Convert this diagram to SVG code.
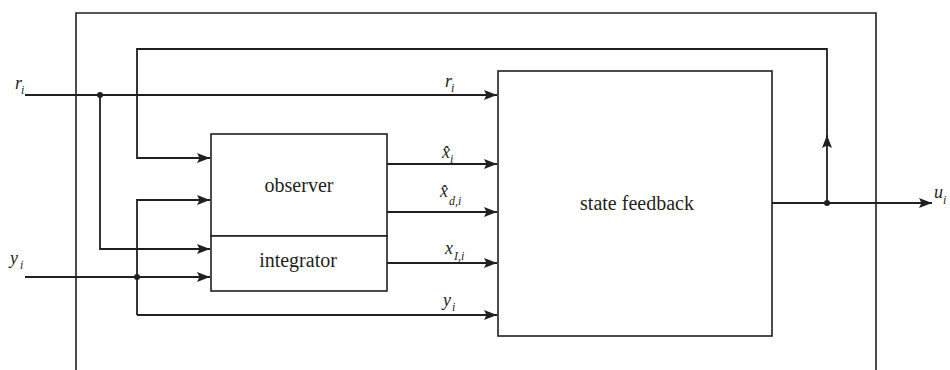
<svg xmlns="http://www.w3.org/2000/svg" width="950" height="370" viewBox="0 0 950 370">
<defs>
<marker id="arr" markerUnits="userSpaceOnUse" markerWidth="13" markerHeight="10" refX="13" refY="5" orient="auto" viewBox="0 0 13 10">
<path d="M0,0 L13,5 L0,10 L2.5,5 z" fill="#231f20"/>
</marker>
<style>
.ln{fill:none;stroke:#231f20;stroke-width:1.8}
.fr{fill:none;stroke:#231f20;stroke-width:1.6}
.bx{fill:#fff;stroke:#231f20;stroke-width:1.6}
.lbl{font-size:20px;fill:#231f20;text-anchor:middle}
.v{font-style:italic;font-size:18px;fill:#231f20}
.s{font-style:italic;font-size:12px;fill:#231f20}
</style>
</defs>
<rect width="950" height="370" fill="#fff"/>
<g id="frame">
<path class="fr" d="M76,371 V13 H876 V371"/>
</g>
<g id="connectors">
<path class="ln" d="M25,95 H497" marker-end="url(#arr)"/>
<path class="ln" d="M100,95 V249 H210" marker-end="url(#arr)"/>
<path class="ln" d="M25,277 H210" marker-end="url(#arr)"/>
<path class="ln" d="M137,315 V200 H210" marker-end="url(#arr)"/>
<path class="ln" d="M137,315 H497" marker-end="url(#arr)"/>
<path class="ln" d="M772,203 H932" marker-end="url(#arr)"/>
<path class="ln" d="M827,203 V135" marker-end="url(#arr)"/>
<path class="ln" d="M827,138 V49 H137 V158 H210" marker-end="url(#arr)"/>
<path class="ln" d="M387,164 H497" marker-end="url(#arr)"/>
<path class="ln" d="M387,212 H497" marker-end="url(#arr)"/>
<path class="ln" d="M387,263 H497" marker-end="url(#arr)"/>
<circle cx="100" cy="95" r="3" fill="#231f20"/>
<circle cx="137" cy="277" r="3" fill="#231f20"/>
<circle cx="827" cy="203" r="3" fill="#231f20"/>
</g>
<g font-family="Liberation Serif, DejaVu Serif, serif">
<g id="observer">
<rect class="bx" x="211" y="134" width="176" height="102"/>
<text class="lbl" x="299" y="192">observer</text>
</g>
<g id="integrator">
<rect class="bx" x="211" y="236" width="176" height="55"/>
<text class="lbl" x="298" y="267">integrator</text>
</g>
<g id="state-feedback">
<rect class="bx" x="498" y="71" width="274" height="265"/>
<text class="lbl" x="637" y="210">state feedback</text>
</g>
<g id="labels">
<text class="v" x="15" y="89">r</text><text class="s" x="21" y="94">i</text>
<text class="v" x="10" y="264">y</text><text class="s" x="20" y="269">i</text>
<text class="v" x="445" y="87">r</text><text class="s" x="451" y="92">i</text>
<text class="v" x="442" y="158">x&#x302;</text><text class="s" x="450" y="163">i</text>
<text class="v" x="440" y="197">x&#x302;</text><text class="s" x="449" y="205">d,i</text>
<text class="v" x="445" y="254">x</text><text class="s" x="454" y="260">I,i</text>
<text class="v" x="443" y="306">y</text><text class="s" x="452" y="311">i</text>
<text class="v" x="934" y="198">u</text><text class="s" x="943" y="204">i</text>
</g>
</g>
</svg>
